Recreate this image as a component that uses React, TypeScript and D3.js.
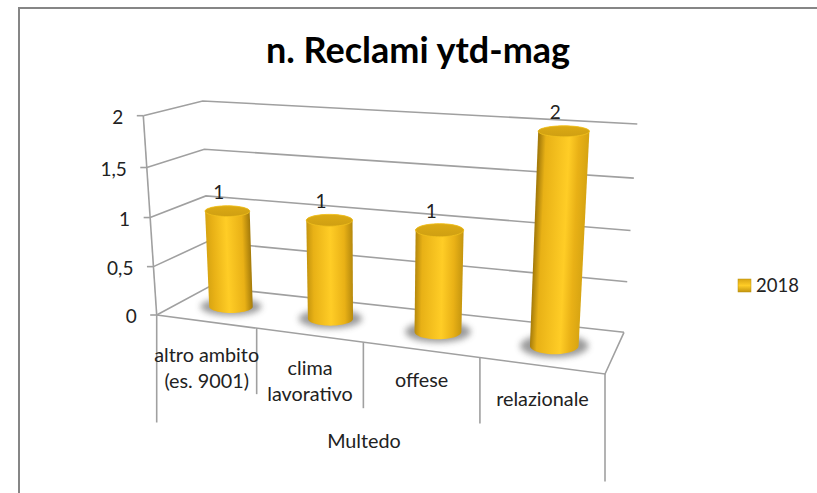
import React from "react";
import * as d3 from "d3";

const title = "n. Reclami ytd-mag";
const seriesName = "2018";
const groupLabel = "Multedo";
const categories = ["altro ambito (es. 9001)", "clima lavorativo", "offese", "relazionale"];
const categoryLines = [["altro ambito", "(es. 9001)"], ["clima", "lavorativo"], ["offese"], ["relazionale"]];
const values = [1, 1, 1, 2];
const yTicks = [0, 0.5, 1, 1.5, 2];
const yTickLabels = ["0", "0,5", "1", "1,5", "2"];

type Pt = [number, number];

// corners of the 3D box on screen: front-left, front-right, back-right, back-left
const floorQuad: Pt[] = [[156.7, 315], [605, 374], [624, 332.3], [209, 286.7]];
const topQuad: Pt[] = [[143.3, 115.7], [617, 146], [637.3, 124], [202.7, 101]];

const FONT = "Lato, 'Open Sans', sans-serif";
const GRID = "#a0a0a0";
const TEXT = "#222";

function quadMap(q: Pt[]) {
  return (u: number, v: number): Pt => {
    const fx = q[0][0] + (q[1][0] - q[0][0]) * u, fy = q[0][1] + (q[1][1] - q[0][1]) * u;
    const bx = q[3][0] + (q[2][0] - q[3][0]) * u, by = q[3][1] + (q[2][1] - q[3][1]) * u;
    return [fx + (bx - fx) * v, fy + (by - fy) * v];
  };
}

const floorAt = quadMap(floorQuad);
const topAt = quadMap(topQuad);

const heightScale = d3.scaleLinear().domain(yTicks).range([0, 0.2427, 0.489, 0.74, 1]);
// category slot -> position along the floor, slots get wider towards the viewer
const slotScale = d3.scaleLinear().domain(d3.range(0, categories.length + 1)).range([0, 0.223, 0.461, 0.721, 1]);
const radiusScale = d3.scaleLinear().domain([0, 1]).range([0.0495, 0.0575]);

function project(u: number, v: number, val: number): Pt {
  const a = floorAt(u, v), b = topAt(u, v), t = heightScale(val);
  return [a[0] + (b[0] - a[0]) * t, a[1] + (b[1] - a[1]) * t];
}

const line = d3.line<Pt>();
const closed = d3.line<Pt>().curve(d3.curveLinearClosed);
const steps = d3.range(0, 48).map((i) => (i / 48) * Math.PI * 2);

const RV = 0.21;
const DEPTH_V = 0.5;
const labelDrop = [46.5, 46, 30.5, 33];

// level ellipse round the bar axis, sized from the box at that height
function ring(u: number, val: number, k = 1): Pt[] {
  const ru = radiusScale(u);
  const rv = RV * (1 + 0.12 * val);
  const [cx, cy] = project(u, DEPTH_V, val);
  const rx = ((project(u + ru, DEPTH_V, val)[0] - project(u - ru, DEPTH_V, val)[0]) / 2) * k;
  const ry = (Math.abs(project(u, DEPTH_V + rv, val)[1] - project(u, DEPTH_V - rv, val)[1]) / 2) * k;
  return steps.map((t) => [cx + rx * Math.cos(t), cy + ry * Math.sin(t)] as Pt);
}

function Cylinder({ i, value }: { i: number; value: number }) {
  const u = slotScale(i + 0.5);
  const bottom = ring(u, 0);
  const top = ring(u, value);
  const hull = d3.polygonHull([...bottom, ...top]) as Pt[];
  const b = project(u, DEPTH_V, 0);
  const t = project(u, DEPTH_V, value);
  const r = (project(u + radiusScale(u), DEPTH_V, 0)[0] - project(u - radiusScale(u), DEPTH_V, 0)[0]) / 2;
  const len = Math.hypot(t[0] - b[0], t[1] - b[1]);
  // unit normal to the bar axis, pointing right
  const nx = (b[1] - t[1]) / len;
  const ny = (t[0] - b[0]) / len;
  const mix = i / (categories.length - 1);
  const edge = d3.interpolateRgb("#d8a512", "#a67c0a");
  return (
    <g>
      <defs>
        <linearGradient
          id={`body${i}`}
          gradientUnits="userSpaceOnUse"
          x1={b[0] - nx * r}
          y1={b[1] - ny * r}
          x2={b[0] + nx * r}
          y2={b[1] + ny * r}
        >
          <stop offset="0" stopColor={edge(mix)} />
          <stop offset={0.14} stopColor="#e8b116" />
          <stop offset={0.46 + 0.16 * mix} stopColor="#ffcd26" />
          <stop offset="0.82" stopColor="#e9b116" />
          <stop offset="1" stopColor={edge(1 - mix)} />
        </linearGradient>
      </defs>
      <path d={closed(ring(u, 0, 1.4))!} fill="#4a4a4a" opacity={0.55} filter="url(#shadowBlur)" />
      <path d={closed(hull)!} fill={`url(#body${i})`} />
      <path d={closed(top)!} fill="url(#capFill)" stroke="#f3c21d" strokeWidth={0.8} />
    </g>
  );
}

export default function App() {
  const labelFs = 19.8;
  return (
    <svg
      width={817}
      height={493}
      style={{ position: "absolute", left: 0, top: 0, background: "#fff" }}
      fontFamily={FONT}
    >
      <defs>
        <filter id="shadowBlur" x="-30%" y="-60%" width="160%" height="220%">
          <feGaussianBlur stdDeviation={3} />
        </filter>
        <linearGradient id="capFill" x1="0" y1="0" x2="0" y2="1">
          <stop offset="0" stopColor="#dcaa14" />
          <stop offset="1" stopColor="#cf9f12" />
        </linearGradient>
        <linearGradient id="swatchFill" x1="0" y1="0" x2="0" y2="1">
          <stop offset="0" stopColor="#d9a514" />
          <stop offset="0.5" stopColor="#ffcd26" />
          <stop offset="1" stopColor="#c4950f" />
        </linearGradient>
      </defs>

      {/* outer frame, cut by the picture on the right and bottom */}
      <path d="M19,493V8H817" fill="none" stroke="#868686" strokeWidth={2} />

      <text x={418} y={63} textAnchor="middle" fontSize={36} fontWeight={700} fill="#000">
        {title}
      </text>

      {/* walls */}
      {yTicks.map((tk) => (
        <path
          key={tk}
          d={line([project(0, 0, tk), project(0, 1, tk), project(1, 1, tk)])!}
          fill="none"
          stroke={GRID}
          strokeWidth={1.6}
        />
      ))}
      <path d={line([project(0, 0, 0), project(0, 0, 2)])!} fill="none" stroke={GRID} strokeWidth={1.6} />
      {yTicks.map((tk, i) => {
        const [x, y] = project(0, 0, tk);
        return (
          <g key={tk}>
            <line x1={x - 6.5} x2={x} y1={y} y2={y} stroke={GRID} strokeWidth={1.6} />
            <text x={x - 20} y={y + 1.5} dy="0.35em" textAnchor="end" fontSize={19} fill={TEXT}>
              {yTickLabels[i]}
            </text>
          </g>
        );
      })}

      {/* floor edges and the two-level category axis */}
      <path
        d={line([project(0, 0, 0), project(1, 0, 0), project(1, 1, 0)])!}
        fill="none"
        stroke={GRID}
        strokeWidth={1.6}
      />
      {d3.range(0, categories.length + 1).map((i) => {
        const outer = i === 0 || i === categories.length;
        const [x, y] = project(slotScale(i), 0, 0);
        return <line key={i} x1={x} x2={x} y1={y} y2={y + (outer ? 107.5 : 66)} stroke={GRID} strokeWidth={1.6} />;
      })}
      {categories.map((c, i) => {
        const [x, y] = project(slotScale(i + 0.5), 0, 0);
        const lines = categoryLines[i];
        const midY = y + labelDrop[i];
        return (
          <text key={c} textAnchor="middle" fontSize={labelFs} fill={TEXT}>
            {lines.map((l, j) => (
              <tspan key={l} x={x} y={midY + (j - (lines.length - 1) / 2) * 26.5} dy="0.35em">
                {l}
              </tspan>
            ))}
          </text>
        );
      })}
      <text x={364} y={441} dy="0.35em" textAnchor="middle" fontSize={labelFs} fill={TEXT}>
        {groupLabel}
      </text>

      {/* bars, then their labels */}
      {categories.map((c, i) => (
        <Cylinder key={c} i={i} value={values[i]} />
      ))}
      {categories.map((c, i) => {
        const [x, y] = project(slotScale(i + 0.5), DEPTH_V, values[i]);
        return (
          <text key={c} x={x - 8.5} y={y - 19} dy="0.35em" textAnchor="middle" fontSize={19} fill={TEXT}>
            {values[i]}
          </text>
        );
      })}

      {/* legend */}
      <rect x={738} y={279} width={13} height={13} fill="url(#swatchFill)" stroke="#b8900f" strokeWidth={0.5} />
      <text x={756} y={285.5} dy="0.35em" fontSize={18.5} fill={TEXT}>
        {seriesName}
      </text>
    </svg>
  );
}
